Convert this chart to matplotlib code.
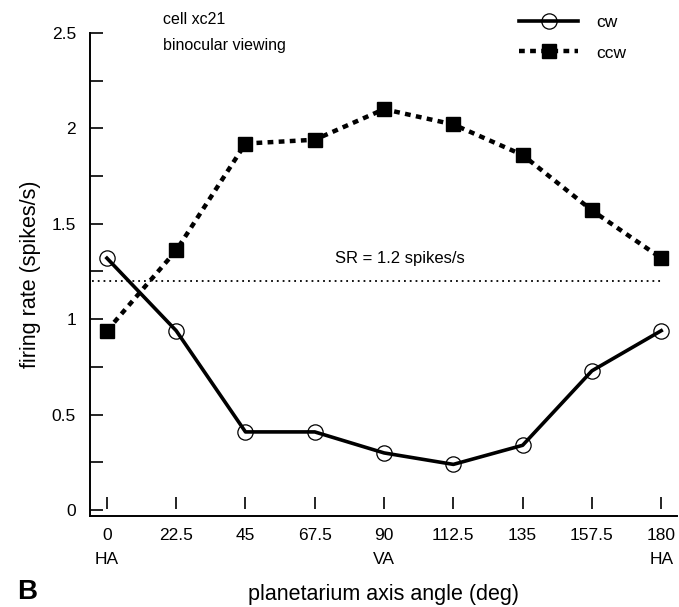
import matplotlib
matplotlib.use("Agg")
from matplotlib import pyplot as plt
from matplotlib import transforms

plt.rcParams['font.family'] = ['Liberation Sans', 'DejaVu Sans']

# planetarium axis angles (deg)
angles = [0, 22.5, 45, 67.5, 90, 112.5, 135, 157.5, 180]
angle_labels = ["0\nHA", "22.5", "45", "67.5", "90\nVA", "112.5", "135", "157.5", "180\nHA"]

# firing rates (spikes/s)
cw = [1.32, 0.94, 0.41, 0.41, 0.30, 0.24, 0.34, 0.73, 0.94]
ccw = [0.94, 1.36, 1.92, 1.94, 2.10, 2.02, 1.86, 1.57, 1.32]

# spontaneous rate
sr = 1.2

fig = plt.figure(figsize=(6.79, 6.07), dpi=100)
ax = fig.add_axes([0.1325, 0.15, 0.864, 0.796])

ax.plot(angles, cw, color="black", lw=2.6, marker="o", markersize=11,
        markerfacecolor="none", markeredgecolor="black", markeredgewidth=0.9,
        label="cw", zorder=3)
ax.plot(angles, ccw, color="black", lw=3.2, linestyle=(0, (1.3, 1.2)),
        marker="s", markersize=10, markerfacecolor="black",
        markeredgecolor="black", label="ccw", zorder=3)

# spontaneous rate line
ax.plot([angles[0] - 5, angles[-1]], [sr, sr], color="black", lw=1.3,
        linestyle=(0, (1, 2.2)))
ax.text((angles[0] + angles[-1]) / 2 + 5, sr + 0.08,
        "SR = %.1f spikes/s" % sr, ha="center", va="bottom", fontsize=12)

ax.set_xlim(-5.5, 185)
ax.set_ylim(-0.03, 2.5)

# y axis: inward ticks at every 0.25, labels every 0.5
ax.set_yticks([0, 0.5, 1, 1.5, 2, 2.5])
ax.set_yticklabels(["0", "0.5", "1", "1.5", "2", "2.5"])
ax.set_yticks([0.25, 0.75, 1.25, 1.75, 2.25], minor=True)
ax.tick_params(axis="y", which="both", direction="in", length=9, width=1.2,
               labelsize=12.5, pad=10)

# x axis: labels only, tick marks drawn detached above the axis line
ax.set_xticks(angles)
ax.set_xticklabels(angle_labels, fontsize=12.5, linespacing=1.7)
ax.tick_params(axis="x", length=0, pad=9)
trans = transforms.blended_transform_factory(ax.transData, ax.transAxes)
ax.plot(angles, [0.027] * len(angles), linestyle="none", marker="|",
        markersize=8, markeredgewidth=1.2, color="black", transform=trans,
        clip_on=False)

for s in ["top", "right"]:
    ax.spines[s].set_visible(False)
ax.spines["left"].set_linewidth(1.4)
ax.spines["bottom"].set_linewidth(1.4)

ax.set_xlabel("planetarium axis angle (deg)", fontsize=15.5, labelpad=12)
ax.set_ylabel("firing rate (spikes/s)", fontsize=15.5, labelpad=8)

fig.text(0.24, 0.968, "cell xc21", fontsize=11.5, va="center")
fig.text(0.24, 0.925, "binocular viewing", fontsize=11.5, va="center")

ax.legend(loc="upper right", bbox_to_anchor=(0.94, 1.07), frameon=False,
          fontsize=12.5, handlelength=3.4, labelspacing=0.9, handletextpad=1.0)

fig.text(0.025, 0.004, "B", fontsize=20, fontweight="bold", va="bottom")

fig.savefig("out.png", dpi=100)
